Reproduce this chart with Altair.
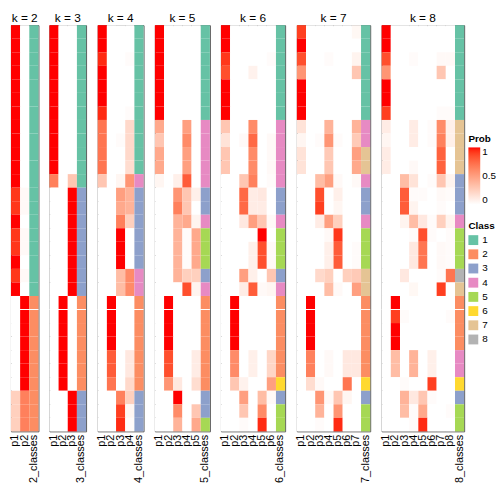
import altair as alt
import pandas as pd

ks = [2, 3, 4, 5, 6, 7, 8]
n_rows = 30
split_rows = [21]

class_labels = ["1", "2", "3", "4", "5", "6", "7", "8"]
class_colors = ["#66C2A5", "#FC8D62", "#8DA0CB", "#E78AC3",
                "#A6D854", "#FFD92F", "#E5C494", "#B3B3B3"]
prob_ticks = [0, 0.5, 1]

k2_prob = [
    [1, 0], [1, 0], [1, 0], [1, 0], [1, 0], [1, 0], [1, 0], [1, 0], [1, 0], [1, 0],
    [1, 0], [1, 0], [0.92, 0.03], [0.92, 0.03], [1, 0], [0.92, 0.03], [0.92, 0.03], [1, 0], [0.92, 0.03], [1, 0],
    [0, 1], [0, 1], [0, 1], [0, 1], [0, 1], [0, 1], [0, 1], [0.25, 0.65], [0.25, 0.65], [0.25, 0.65],
]
k2_class = [1, 1, 1, 1, 1, 1, 1, 1, 1, 1, 1, 1, 1, 1, 1, 1, 1, 1, 1, 1,
            2, 2, 2, 2, 2, 2, 2, 2, 2, 2]

k3_prob = [
    [1, 0, 0], [1, 0, 0], [1, 0, 0], [1, 0, 0], [1, 0, 0], [1, 0, 0], [1, 0, 0], [1, 0, 0], [1, 0, 0], [1, 0, 0],
    [1, 0, 0], [0.65, 0, 0.3], [0, 0, 1], [0, 0, 1], [0, 0, 1], [0, 0, 1], [0, 0, 1], [0, 0, 1], [0, 0, 1], [0, 0, 1],
    [0, 1, 0], [0, 1, 0], [0, 1, 0], [0, 1, 0], [0, 1, 0], [0, 1, 0], [0, 1, 0], [0, 0, 1], [0, 0, 1], [0, 0, 1],
]
k3_class = [1, 1, 1, 1, 1, 1, 1, 1, 1, 1, 1, 1, 3, 3, 3, 3, 3, 3, 3, 3,
            2, 2, 2, 2, 2, 2, 2, 3, 3, 3]

k4_prob = [
    [1, 0, 0, 0], [1, 0, 0, 0], [0.95, 0, 0, 0.02], [1, 0, 0, 0], [1, 0, 0, 0],
    [1, 0, 0, 0], [0.95, 0, 0, 0.02], [0.7, 0, 0, 0.2], [0.7, 0, 0.02, 0.2], [0.7, 0, 0, 0.2],
    [0.7, 0, 0, 0.18], [0.3, 0, 0.05, 0.55], [0, 0, 0.5, 0.4], [0, 0, 0.45, 0.4], [0, 0, 0.65, 0.25],
    [0, 0, 1, 0], [0, 0, 1, 0], [0, 0, 1, 0], [0, 0, 0.35, 0.6], [0, 0, 0.35, 0.6],
    [0, 1, 0, 0], [0, 1, 0, 0], [0, 1, 0, 0], [0, 1, 0, 0], [0, 0.8, 0, 0.12],
    [0, 0.8, 0, 0.12], [0, 0.7, 0, 0.2], [0, 0, 0.65, 0.25], [0, 0, 0.9, 0.05], [0, 0, 0.95, 0.02],
]
k4_class = [1, 1, 1, 1, 1, 1, 1, 1, 1, 1, 1, 4, 3, 3, 3, 3, 3, 3, 4, 4,
            2, 2, 2, 2, 2, 2, 2, 3, 3, 3]

k5_prob = [
    [1, 0, 0, 0, 0], [1, 0, 0, 0, 0], [1, 0, 0, 0, 0], [1, 0, 0, 0, 0], [1, 0, 0, 0, 0],
    [1, 0, 0, 0, 0], [1, 0, 0, 0, 0], [0.45, 0, 0, 0.5, 0], [0.3, 0, 0, 0.6, 0], [0.45, 0, 0, 0.5, 0],
    [0.45, 0, 0, 0.5, 0], [0.05, 0, 0.08, 0.8, 0], [0, 0, 0.55, 0.3, 0.08], [0, 0, 0.65, 0.3, 0], [0, 0, 0.4, 0.45, 0.06],
    [0, 0, 0.4, 0.02, 0.45], [0, 0, 0.4, 0.02, 0.45], [0, 0, 0.4, 0.02, 0.45], [0, 0, 0.4, 0.25, 0.25], [0, 0, 0, 0.85, 0.06],
    [0, 1, 0, 0, 0], [0, 1, 0, 0, 0], [0, 1, 0, 0, 0], [0, 1, 0, 0, 0], [0, 0.85, 0, 0, 0.1],
    [0, 0.85, 0, 0, 0.1], [0, 0.55, 0.12, 0, 0.18], [0, 0, 1, 0, 0], [0, 0, 0.6, 0, 0.3], [0, 0, 0.4, 0, 0.45],
]
k5_class = [1, 1, 1, 1, 1, 1, 1, 4, 4, 4, 4, 4, 3, 3, 4, 5, 5, 5, 3, 4,
            2, 2, 2, 2, 2, 2, 2, 3, 3, 5]

k6_prob = [
    [1, 0, 0, 0, 0, 0], [1, 0, 0, 0, 0, 0], [0.92, 0, 0, 0, 0, 0.02], [0.85, 0, 0, 0.07, 0, 0], [1, 0, 0, 0, 0, 0],
    [1, 0, 0, 0, 0, 0], [1, 0, 0, 0, 0, 0], [0.3, 0, 0, 0.6, 0, 0], [0.15, 0, 0.03, 0.75, 0, 0.03], [0.3, 0, 0, 0.6, 0, 0.03],
    [0.3, 0, 0, 0.6, 0, 0.03], [0, 0, 0.3, 0.65, 0, 0.02], [0, 0, 0.75, 0.1, 0.12, 0], [0, 0, 0.75, 0.1, 0.1, 0], [0, 0, 0.12, 0.5, 0.3, 0.03],
    [0, 0, 0, 0, 1, 0], [0, 0, 0, 0.08, 0.85, 0.03], [0, 0, 0, 0.08, 0.85, 0.03], [0, 0, 0.5, 0.08, 0, 0.3], [0, 0, 0.1, 0.8, 0.03, 0.05],
    [0, 1, 0, 0, 0, 0], [0, 1, 0, 0, 0, 0], [0, 1, 0, 0, 0, 0], [0, 1, 0, 0, 0, 0], [0, 0.6, 0, 0.08, 0, 0.22],
    [0, 0.6, 0, 0.08, 0, 0.22], [0, 0.3, 0.07, 0, 0, 0.5], [0, 0, 0.5, 0, 0.35, 0.03], [0, 0, 0.3, 0, 0.6, 0], [0, 0, 0.02, 0, 0.95, 0],
]
k6_class = [1, 1, 1, 1, 1, 1, 1, 4, 4, 4, 4, 4, 3, 3, 4, 5, 5, 5, 3, 4,
            2, 2, 2, 2, 2, 2, 6, 3, 5, 5]

k7_prob = [
    [0.9, 0, 0, 0, 0, 0, 0.04], [1, 0, 0, 0, 0, 0, 0], [0.85, 0, 0, 0.02, 0, 0, 0.06], [0.55, 0, 0, 0, 0, 0, 0.3], [1, 0, 0, 0, 0, 0, 0],
    [1, 0, 0, 0, 0, 0, 0], [1, 0, 0, 0, 0, 0, 0], [0.15, 0, 0, 0.4, 0, 0, 0.4], [0.05, 0, 0.02, 0.55, 0.02, 0, 0.28], [0.15, 0, 0, 0.28, 0, 0, 0.5],
    [0.15, 0, 0, 0.3, 0, 0, 0.45], [0, 0, 0.35, 0.5, 0.03, 0, 0.03], [0, 0, 0.85, 0, 0.08, 0, 0], [0, 0, 0.9, 0, 0.05, 0, 0], [0, 0, 0.1, 0.5, 0.25, 0, 0],
    [0, 0, 0, 0.03, 0.92, 0, 0], [0, 0, 0, 0.08, 0.8, 0, 0.02], [0, 0, 0, 0.08, 0.8, 0, 0.02], [0, 0, 0.2, 0.25, 0, 0.25, 0.28], [0, 0, 0, 0.35, 0.03, 0, 0.5],
    [0, 1, 0, 0, 0, 0, 0], [0, 1, 0, 0, 0, 0, 0], [0, 1, 0, 0, 0, 0, 0], [0, 1, 0, 0, 0, 0, 0], [0, 0.65, 0, 0.03, 0, 0.12, 0.12],
    [0, 0.65, 0, 0.03, 0, 0.12, 0.12], [0, 0.18, 0.03, 0, 0, 0.7, 0], [0, 0, 0.55, 0.03, 0.3, 0.05, 0], [0, 0, 0.4, 0, 0.55, 0, 0], [0, 0, 0.02, 0, 0.95, 0, 0],
]
k7_class = [1, 1, 1, 1, 1, 1, 1, 4, 4, 7, 7, 4, 3, 3, 4, 5, 5, 5, 7, 7,
            2, 2, 2, 2, 2, 2, 6, 3, 5, 5]

k8_prob = [
    [1, 0, 0, 0, 0, 0, 0, 0], [1, 0, 0, 0, 0, 0, 0, 0], [0.85, 0, 0, 0.02, 0, 0, 0.03, 0.03], [0.55, 0, 0, 0, 0, 0, 0.3, 0], [1, 0, 0, 0, 0, 0, 0, 0],
    [1, 0, 0, 0, 0, 0, 0, 0], [0.9, 0, 0, 0, 0, 0, 0.02, 0.02], [0.1, 0, 0, 0.1, 0, 0.02, 0.6, 0.08], [0.05, 0, 0, 0.1, 0, 0.02, 0.65, 0.08], [0.1, 0, 0, 0, 0, 0, 0.78, 0],
    [0.1, 0, 0, 0.03, 0, 0, 0.78, 0], [0, 0, 0.35, 0.15, 0, 0.02, 0.3, 0.06], [0, 0, 0.8, 0.02, 0.02, 0, 0.03, 0.02], [0, 0, 0.8, 0.06, 0, 0, 0.02, 0], [0, 0, 0.06, 0.35, 0.12, 0.02, 0.25, 0.06],
    [0, 0, 0, 0.02, 0.85, 0.02, 0, 0.02], [0, 0, 0, 0.12, 0.7, 0, 0.03, 0.02], [0, 0, 0, 0.12, 0.7, 0, 0.03, 0.02], [0, 0, 0.12, 0, 0, 0, 0.02, 0.7], [0, 0, 0, 0.04, 0, 0, 0.9, 0],
    [0, 1, 0, 0, 0, 0, 0, 0], [0, 0.9, 0.02, 0, 0, 0, 0, 0.02], [0, 1, 0, 0, 0, 0, 0, 0], [0, 1, 0, 0, 0, 0, 0, 0], [0, 0.35, 0, 0.4, 0, 0.08, 0, 0],
    [0, 0.35, 0, 0.4, 0, 0.08, 0, 0], [0, 0, 0.02, 0, 0, 0.9, 0, 0], [0, 0, 0.4, 0.12, 0.3, 0.02, 0, 0], [0, 0, 0.35, 0.02, 0.45, 0, 0, 0.02], [0, 0, 0, 0.02, 0.95, 0, 0, 0],
]
k8_class = [1, 1, 1, 1, 1, 1, 1, 7, 7, 7, 7, 3, 3, 3, 4, 5, 5, 5, 8, 7,
            2, 2, 2, 2, 4, 4, 6, 3, 5, 5]

probs = {2: k2_prob, 3: k3_prob, 4: k4_prob, 5: k5_prob, 6: k6_prob, 7: k7_prob, 8: k8_prob}
classes = {2: k2_class, 3: k3_class, 4: k4_class, 5: k5_class, 6: k6_class, 7: k7_class, 8: k8_class}

FONT = "Liberation Sans"
col_w = 9.3
panel_h = 412

y_scale = alt.Scale(domain=[0, n_rows], reverse=True, nice=False, zero=False)
color_scale = alt.Scale(domain=[0, 1], range=["white", "red"], interpolate="lab")
fill_scale = alt.Scale(domain=class_labels, range=class_colors)

prob_legend = alt.Legend(title="Prob", orient="none", legendX=464, legendY=110,
                         values=prob_ticks, format=".1~f", direction="vertical",
                         gradientLength=58, gradientThickness=12,
                         titleFontSize=10, labelFontSize=10, titleFont=FONT, labelFont=FONT,
                         gradientStrokeWidth=0, titlePadding=4)
class_legend = alt.Legend(title="Class", orient="none", legendX=464, legendY=199,
                          symbolType="square", symbolSize=100, symbolStrokeWidth=0,
                          titleFontSize=10, labelFontSize=10, titleFont=FONT, labelFont=FONT,
                          rowPadding=4.4, titlePadding=4)

panels = []
for k in ks:
    cols = [f"p{i + 1}" for i in range(k)] + [f"{k}_classes"]
    recs = []
    for r in range(n_rows):
        for j in range(k):
            recs.append({"col": f"p{j + 1}", "y0": r, "y1": r + 1,
                         "prob": probs[k][r][j], "cls": "", "kind": "p"})
        recs.append({"col": f"{k}_classes", "y0": r, "y1": r + 1,
                     "prob": 0.0, "cls": str(classes[k][r]), "kind": "c"})
    df = pd.DataFrame(recs)

    x_enc = alt.X("col:N", scale=alt.Scale(domain=cols, paddingInner=0, paddingOuter=0),
                  axis=alt.Axis(title=None, labelAngle=-90, ticks=False, domain=False,
                                labelFontSize=11, labelFont=FONT, labelPadding=3))
    base = alt.Chart(df)
    prob_layer = base.transform_filter(alt.datum.kind == "p").mark_rect(strokeWidth=0).encode(
        x=x_enc,
        y=alt.Y("y0:Q", scale=y_scale, axis=None),
        y2="y1:Q",
        color=alt.Color("prob:Q", scale=color_scale, legend=prob_legend),
    )
    class_layer = base.transform_filter(alt.datum.kind == "c").mark_rect(strokeWidth=0).encode(
        x=x_enc,
        y=alt.Y("y0:Q", scale=y_scale, axis=None),
        y2="y1:Q",
        fill=alt.Fill("cls:N", scale=fill_scale, legend=class_legend),
    )
    rule_layer = alt.Chart(pd.DataFrame({"y": split_rows})).mark_rule(
        color="white", strokeWidth=1).encode(y=alt.Y("y:Q", scale=y_scale, axis=None))

    panel = alt.layer(prob_layer, class_layer, rule_layer).properties(
        width=round(col_w * (k + 1), 1), height=panel_h,
        title=alt.TitleParams(f"k = {k}", fontSize=12, fontWeight="normal", font=FONT, offset=0),
    )
    panels.append(panel)

chart = alt.hconcat(*panels, spacing=11, bounds="flush").properties(
    padding={"left": 0, "top": 0, "right": 0, "bottom": 0}
).configure_view(stroke="#555555", strokeWidth=1)

chart.save("out.html", embed_options={"renderer": "svg", "actions": False})
